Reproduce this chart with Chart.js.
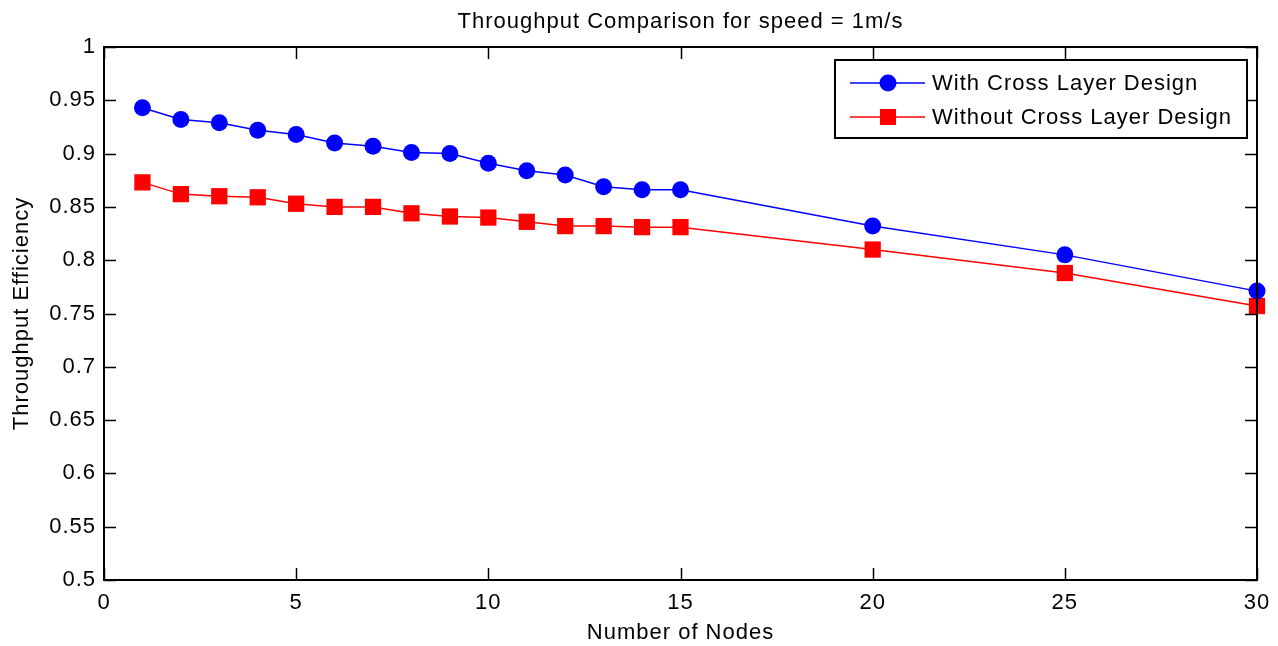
<!DOCTYPE html>
<html>
<head>
<meta charset="utf-8">
<script src="https://cdn.jsdelivr.net/npm/chart.js@4"></script>
<style>
  html, body { margin: 0; padding: 0; background: #ffffff; }
  #wrap { width: 1278px; height: 646px; }
</style>
</head>
<body>
<div id="wrap"><canvas id="c" width="1278" height="646"></canvas></div>
<script>
const chartTitle = 'Throughput Comparison for speed = 1m/s';
const xAxisTitle = 'Number of Nodes';
const yAxisTitle = 'Throughput Efficiency';
const seriesNames = ['With Cross Layer Design', 'Without Cross Layer Design'];
const nodes = [1, 2, 3, 4, 5, 6, 7, 8, 9, 10, 11, 12, 13, 14, 15, 20, 25, 30];
const withCrossLayer = [0.943, 0.932, 0.929, 0.922, 0.918, 0.910, 0.907, 0.901, 0.900, 0.891, 0.884, 0.880, 0.869, 0.866, 0.866, 0.832, 0.805, 0.771];
const withoutCrossLayer = [0.873, 0.862, 0.860, 0.859, 0.853, 0.850, 0.850, 0.844, 0.841, 0.840, 0.836, 0.832, 0.832, 0.831, 0.831, 0.810, 0.788, 0.757];
const xTickValues = [0, 5, 10, 15, 20, 25, 30];
const yTickValues = [0.5, 0.55, 0.6, 0.65, 0.7, 0.75, 0.8, 0.85, 0.9, 0.95, 1];

const FONT = '"Liberation Sans", Arial, Helvetica, sans-serif';
const FS = 22;

const toPoints = (xs, ys) => xs.map((x, i) => ({ x: x, y: ys[i] }));

const spacingPlugin = {
  id: 'spacing',
  beforeDraw(chart) { chart.ctx.letterSpacing = '1px'; }
};

const framePlugin = {
  id: 'frame',
  afterDraw(chart) {
    const ctx = chart.ctx;
    const a = chart.chartArea;
    const xs = chart.scales.x, ys = chart.scales.y;
    const tl = 12;
    ctx.save();
    ctx.strokeStyle = '#000000';
    ctx.lineWidth = 1.5;
    ctx.beginPath();
    xTickValues.forEach(v => {
      const px = Math.round(xs.getPixelForValue(v)) + 0.5;
      ctx.moveTo(px, a.bottom); ctx.lineTo(px, a.bottom - tl);
      ctx.moveTo(px, a.top); ctx.lineTo(px, a.top + tl);
    });
    yTickValues.forEach(v => {
      const py = Math.round(ys.getPixelForValue(v)) + 0.5;
      ctx.moveTo(a.left, py); ctx.lineTo(a.left + tl, py);
      ctx.moveTo(a.right, py); ctx.lineTo(a.right - tl, py);
    });
    ctx.stroke();
    ctx.lineWidth = 2;
    ctx.strokeRect(a.left, a.top, a.right - a.left, a.bottom - a.top);

    // legend
    const lx = 835, ly = 60, lw = 412, lh = 78;
    ctx.fillStyle = '#ffffff';
    ctx.fillRect(lx, ly, lw, lh);
    ctx.strokeStyle = '#000000';
    ctx.lineWidth = 2;
    ctx.strokeRect(lx, ly, lw, lh);
    const rows = [83, 117];
    chart.data.datasets.forEach((ds, i) => {
      const y = rows[i];
      ctx.strokeStyle = ds.borderColor;
      ctx.lineWidth = 1.5;
      ctx.beginPath(); ctx.moveTo(850, y); ctx.lineTo(925, y); ctx.stroke();
      ctx.fillStyle = ds.backgroundColor;
      if (ds.pointStyle === 'rect') {
        ctx.fillRect(888 - 8, y - 8, 16, 16);
      } else {
        ctx.beginPath(); ctx.arc(888, y, 8.5, 0, Math.PI * 2); ctx.fill();
      }
      ctx.fillStyle = '#000000';
      ctx.font = FS + 'px ' + FONT;
      ctx.textBaseline = 'middle';
      ctx.textAlign = 'left';
      ctx.fillText(ds.label, 932, y + 1);
    });
    ctx.restore();
  }
};

new Chart(document.getElementById('c'), {
  type: 'line',
  data: {
    datasets: [
      {
        label: seriesNames[0],
        data: toPoints(nodes, withCrossLayer),
        borderColor: '#0000ff',
        backgroundColor: '#0000ff',
        borderWidth: 1.5,
        pointStyle: 'circle',
        pointRadius: 8.5,
        pointBorderWidth: 0,
        tension: 0,
        clip: false
      },
      {
        label: seriesNames[1],
        data: toPoints(nodes, withoutCrossLayer),
        borderColor: '#ff0000',
        backgroundColor: '#ff0000',
        borderWidth: 1.5,
        pointStyle: 'rect',
        pointRadius: 11.5,
        pointBorderWidth: 0,
        tension: 0,
        clip: false
      }
    ]
  },
  options: {
    responsive: false,
    animation: false,
    events: [],
    layout: { padding: { left: 0, right: 21, top: 0, bottom: 0 } },
    plugins: {
      legend: { display: false },
      tooltip: { enabled: false },
      title: {
        display: true,
        fullSize: false,
        text: chartTitle,
        color: '#000000',
        font: { family: FONT, size: FS, weight: 'normal', lineHeight: 1.2 },
        padding: { top: 8.3, bottom: 12.3 }
      }
    },
    scales: {
      x: {
        type: 'linear',
        min: 0, max: 30,
        afterBuildTicks(scale) { scale.ticks = xTickValues.map(v => ({ value: v })); },
        afterFit(scale) { scale.height = 66; scale.paddingLeft = 0; scale.paddingRight = 0; },
        grid: { display: false, drawTicks: false },
        border: { display: false },
        ticks: {
          color: '#000000',
          padding: 10,
          maxRotation: 0,
          font: { family: FONT, size: FS },
          callback: v => String(v)
        },
        title: {
          display: true,
          text: xAxisTitle,
          color: '#000000',
          font: { family: FONT, size: FS, lineHeight: 1.2 },
          padding: { top: 0, bottom: 0 }
        }
      },
      y: {
        type: 'linear',
        min: 0.5, max: 1,
        afterBuildTicks(scale) { scale.ticks = yTickValues.map(v => ({ value: v })); },
        afterFit(scale) { scale.width = 104; scale.paddingTop = 0; scale.paddingBottom = 0; },
        grid: { display: false, drawTicks: false },
        border: { display: false },
        ticks: {
          color: '#000000',
          padding: 8,
          font: { family: FONT, size: FS },
          callback: v => String(Number(v.toFixed(2)))
        },
        title: {
          display: true,
          text: yAxisTitle,
          color: '#000000',
          font: { family: FONT, size: FS, lineHeight: 1.2 },
          padding: { top: 9, bottom: 0 }
        }
      }
    }
  },
  plugins: [spacingPlugin, framePlugin]
});
</script>
</body>
</html>
